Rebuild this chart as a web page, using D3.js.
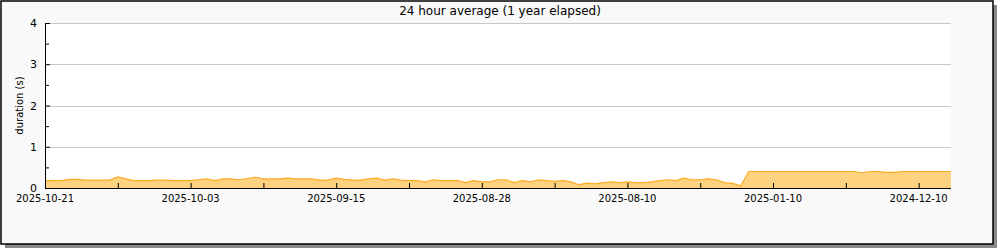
<!DOCTYPE html>
<html>
<head>
<meta charset="utf-8">
<script src="https://cdn.jsdelivr.net/npm/d3@7"></script>
<style>
  html, body { margin: 0; padding: 0; background: #ffffff; }
  svg { display: block; }
  text { font-family: "DejaVu Sans", sans-serif; fill: #000; }
</style>
</head>
<body>
<svg id="chart" width="1000" height="250"></svg>
<script>
// ---- data (newest first, one value per sample, seconds) ----
const durations = [
  0.18, 0.18, 0.18, 0.21, 0.21, 0.19, 0.19, 0.19, 0.19, 0.27,
  0.22, 0.18, 0.18, 0.18, 0.19, 0.19, 0.18, 0.18, 0.18, 0.20,
  0.22, 0.18, 0.22, 0.22, 0.20, 0.23, 0.26, 0.22, 0.22, 0.22,
  0.24, 0.22, 0.22, 0.22, 0.19, 0.19, 0.24, 0.21, 0.19, 0.19,
  0.22, 0.24, 0.19, 0.22, 0.19, 0.18, 0.18, 0.15, 0.20, 0.18,
  0.18, 0.18, 0.13, 0.18, 0.15, 0.15, 0.20, 0.20, 0.13, 0.18,
  0.15, 0.20, 0.18, 0.16, 0.18, 0.15, 0.08, 0.12, 0.10, 0.13,
  0.15, 0.13, 0.15, 0.13, 0.13, 0.15, 0.18, 0.20, 0.18, 0.24,
  0.20, 0.20, 0.22, 0.20, 0.13, 0.11, 0.05, 0.40, 0.40, 0.40,
  0.40, 0.40, 0.40, 0.40, 0.40, 0.40, 0.40, 0.40, 0.40, 0.40,
  0.40, 0.37, 0.40, 0.40, 0.38, 0.38, 0.40, 0.40, 0.40, 0.40,
  0.40, 0.40, 0.40
];
const xTickIndex  = [0, 9, 18, 27, 36, 45, 54, 63, 72, 81, 90, 99, 108];
const xTickLabels = ["2025-10-21", "", "2025-10-03", "", "2025-09-15", "", "2025-08-28", "", "2025-08-10", "", "2025-01-10", "", "2024-12-10"];
const yTicks      = [0, 0.5, 1, 1.5, 2, 2.5, 3, 3.5, 4];
const yTickLabels = ["0", "", "1", "", "2", "", "3", "", "4"];
const yGrid       = [1, 2, 3, 4];
const titleText   = "24 hour average (1 year elapsed)";
const yTitle      = "duration (s)";

// ---- layout ----
const svg = d3.select("#chart");
const L = 45, R = 951, T = 23, B = 188;

// frame with shadow
svg.append("rect").attr("x", 5).attr("y", 5).attr("width", 992).attr("height", 243).attr("fill", "#8a8a8a");
svg.append("rect").attr("x", 1).attr("y", 1).attr("width", 992).attr("height", 243)
  .attr("fill", "#f9f9f9").attr("stroke", "#000").attr("stroke-width", 1.5);

// plot background
svg.append("rect").attr("x", L).attr("y", T).attr("width", R - L).attr("height", B - T).attr("fill", "#ffffff");

const x = d3.scaleLinear().domain([0, durations.length - 1]).range([L, R]);
const y = d3.scaleLinear().domain([0, 4]).range([B, T]);

// gridlines
svg.append("g").selectAll("line").data(yGrid).join("line")
  .attr("x1", L).attr("x2", R)
  .attr("y1", d => Math.round(y(d)) + 0.5).attr("y2", d => Math.round(y(d)) + 0.5)
  .attr("stroke", "#c8c8c8").attr("stroke-width", 1);

// area + line
const area = d3.area().x((d, i) => x(i)).y0(y(0)).y1(d => y(d));
const line = d3.line().x((d, i) => x(i)).y(d => y(d));
svg.append("path").datum(durations).attr("d", area).attr("fill", "#ffd280");
svg.append("path").datum(durations).attr("d", line).attr("fill", "none")
  .attr("stroke", "#ffaa22").attr("stroke-width", 1.2);

// y axis (ticks inward)
const yAxis = d3.axisRight(y).tickValues(yTicks).tickSize(5)
  .tickFormat((d, i) => "");
const gy = svg.append("g").attr("transform", `translate(${L},0)`).call(yAxis);
gy.select(".domain").attr("d", `M0.5,${T}V${B}`).attr("stroke", "#000");
gy.selectAll(".tick line").attr("stroke", "#000").attr("x2", (d, i) => i % 2 === 0 ? 5 : 4);
svg.append("g").selectAll("text").data(yTicks).join("text")
  .attr("x", 37).attr("y", d => y(d) + 4)
  .attr("text-anchor", "end").attr("font-size", 11)
  .text((d, i) => yTickLabels[i]);

// x axis (ticks inward)
const xAxis = d3.axisTop(x).tickValues(xTickIndex).tickSize(5).tickFormat(() => "");
const gx = svg.append("g").attr("transform", `translate(0,${B})`).call(xAxis);
gx.select(".domain").attr("d", `M${L},0.5H${R}`).attr("stroke", "#000");
gx.selectAll(".tick line").attr("stroke", "#000");
svg.append("g").selectAll("text").data(xTickIndex).join("text")
  .attr("x", d => x(d)).attr("y", 202)
  .attr("text-anchor", "middle").attr("font-size", 10)
  .text((d, i) => xTickLabels[i]);

// titles
svg.append("text").attr("x", 500).attr("y", 15).attr("text-anchor", "middle")
  .attr("font-size", 12).text(titleText);
svg.append("text").attr("transform", `translate(23,${(T + B) / 2}) rotate(-90)`)
  .attr("text-anchor", "middle").attr("font-size", 10).text(yTitle);
</script>
</body>
</html>
